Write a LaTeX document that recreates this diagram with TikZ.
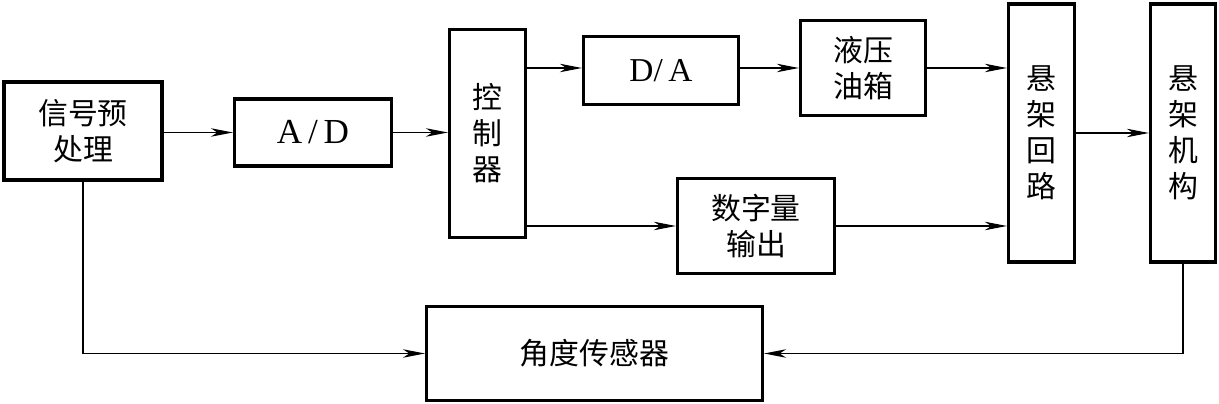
\documentclass[tikz,border=0pt]{standalone}
\usepackage{fontspec}
\setmainfont{Liberation Serif}
\newfontfamily\cjk{Noto Sans CJK SC}
\usetikzlibrary{arrows.meta,positioning}

\begin{document}
\begin{tikzpicture}[x=0.02cm, y=-0.02cm, font=\cjk\fontsize{17}{20.5}\selectfont,
  blk/.style={draw, line width=1.9pt, align=center, inner sep=0pt},
  conn/.style={line width=0.6pt, -{Stealth[length=4.4mm, width=1.7mm, inset=1.3mm]}}]
  \useasboundingbox (0,0) rectangle (1219,404);
  % boxes
  \node[blk, minimum width=3.16cm, minimum height=1.96cm] (pre) at (83,131) {信号预\\处理};
  \node[blk, minimum width=3.14cm, minimum height=1.34cm] (ad) at (313,132.5)
    {\rmfamily\fontsize{20}{24}\selectfont A\,/\,D};
  \node[blk, minimum width=1.52cm, minimum height=4.16cm] (ctrl) at (487.5,133.5) {控\\制\\器};
  \node[blk, minimum width=3.1cm, minimum height=1.36cm] (da) at (661,70.5)
    {\rmfamily\fontsize{19}{22}\selectfont D/\,A};
  \node[blk, minimum width=2.5cm, minimum height=1.9cm] (tank) at (863,68) {液压\\油箱};
  \node[blk, minimum width=3.14cm, minimum height=1.9cm] (dig) at (756,226) {数字量\\输出};
  \node[blk, minimum width=1.32cm, minimum height=5.16cm] (loop) at (1041.5,133) {悬\\架\\回\\路};
  \node[blk, minimum width=1.3cm, minimum height=5.16cm] (mech) at (1183,133) {悬\\架\\机\\构};
  \node[blk, minimum width=6.72cm, minimum height=1.88cm] (sens) at (594.5,353.5) {角度传感器};
  % connectors
  \draw[conn] (pre.east |- ad) -- (ad.west);
  \draw[conn] (ad.east) -- (ctrl.west |- ad.east);
  \draw[conn] (ctrl.east |- tank) -- (da.west |- tank);
  \draw[conn] (da.east |- tank) -- (tank.west);
  \draw[conn] (tank.east) -- (loop.west |- tank);
  \draw[conn] (ctrl.east |- dig) -- (dig.west);
  \draw[conn] (dig.east) -- (loop.west |- dig);
  \draw[conn] (loop.east) -- (mech.west |- loop.east);
  \draw[conn] (mech.south) |- (sens.east);
  \draw[conn] (pre.south) |- (sens.west);
\end{tikzpicture}
\end{document}
